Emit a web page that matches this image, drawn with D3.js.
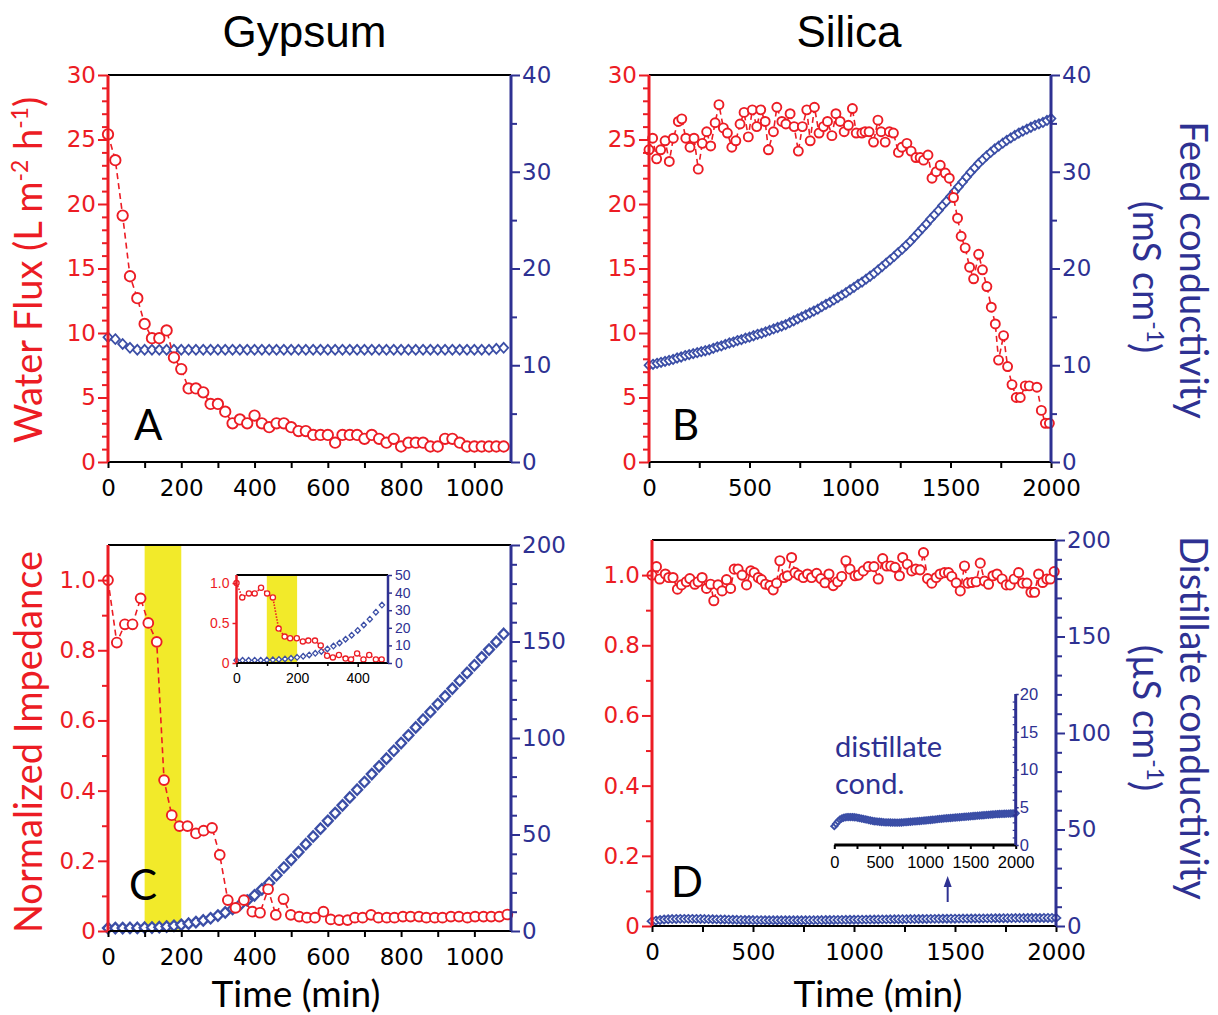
<!DOCTYPE html>
<html>
<head>
<meta charset="utf-8">
<script src="https://cdn.jsdelivr.net/npm/d3@7"></script>
<style>
  html, body { margin: 0; padding: 0; background: #fff; }
  svg { display: block; }
</style>
</head>
<body>
<svg id="fig" width="1218" height="1015"></svg>
<script>
// ---------------- data ----------------
// Gypsum: water flux (L m-2 h-1) and feed conductivity (mS/cm), sampled every 20 min
const gypsumTime = [0,20,40,60,80,100,120,140,160,180,200,220,240,260,280,300,320,340,360,380,400,420,440,460,480,500,520,540,560,580,600,620,640,660,680,700,720,740,760,780,800,820,840,860,880,900,920,940,960,980,1000,1020,1040,1060,1080];
const gypsumFlux = [25.4,23.4,19.1,14.4,12.7,10.7,9.6,9.6,10.2,8.1,7.2,5.7,5.7,5.4,4.5,4.5,3.9,3.0,3.3,3.0,3.6,3.0,2.7,3.0,3.0,2.7,2.4,2.4,2.1,2.1,2.1,1.5,2.1,2.1,2.1,1.8,2.1,1.8,1.5,1.8,1.2,1.5,1.5,1.5,1.2,1.2,1.8,1.8,1.5,1.2,1.2,1.2,1.2,1.2,1.2];
const gypsumFeedCond = [12.9,12.7,12.2,11.8,11.6,
  11.6,11.6,11.6,11.6,11.6,11.6,11.6,11.6,11.6,11.6,
  11.6,11.6,11.6,11.6,11.6,11.6,11.6,11.6,11.6,11.6,
  11.6,11.6,11.6,11.6,11.6,11.6,11.6,11.6,11.6,11.6,
  11.6,11.6,11.6,11.6,11.6,11.6,11.6,11.6,11.6,11.6,
  11.6,11.6,11.6,11.6,11.6,11.6,11.6,11.6,11.7,11.8];

// Silica: water flux and feed conductivity
const silicaFluxTime = [0,18,38,58,80,101,121,146,163,183,204,224,245,265,287,307,329,348,370,390,412,432,453,473,494,514,536,556,578,594,619,636,661,681,702,722,743,763,785,802,823,846,868,888,910,930,951,971,992,1012,1031,1059,1075,1095,1117,1139,1155,1175,1196,1216,1241,1258,1283,1304,1328,1349,1366,1388,1408,1429,1449,1474,1494,1515,1535,1553,1573,1595,1615,1640,1659,1681,1703,1723,1739,1764,1784,1806,1827,1847,1872,1892,1930,1952,1972,1992];
const silicaFlux = [24.2,25.1,23.5,24.2,24.9,23.3,25.1,26.4,26.6,25.1,24.4,25.1,22.7,24.7,25.6,24.5,26.3,27.7,25.9,25.5,24.4,24.9,26.2,27.1,25.2,27.3,26.0,27.3,26.4,24.2,25.6,27.5,26.4,26.2,27.0,26.0,24.1,26.0,27.3,24.9,27.5,25.5,26.0,26.4,25.3,27.0,26.4,25.6,26.1,27.4,25.5,25.5,25.6,25.6,24.8,26.5,25.6,24.8,25.6,25.5,24.0,24.4,24.7,24.1,23.6,23.6,23.4,23.8,22.0,22.5,23.0,22.4,22.0,20.5,18.9,17.5,16.6,15.1,14.2,16.1,14.9,13.6,12.0,10.7,7.9,9.8,7.4,6.0,5.0,5.0,5.9,5.9,5.8,4.0,3.0,3.0];
const silicaTime = [0,20,40,60,80,100,120,140,160,180,200,220,240,260,280,300,320,340,360,380,400,420,440,460,480,500,520,540,560,580,600,620,640,660,680,700,720,740,760,780,800,820,840,860,880,900,920,940,960,980,1000,1020,1040,1060,1080,1100,1120,1140,1160,1180,1200,1220,1240,1260,1280,1300,1320,1340,1360,1380,1400,1420,1440,1460,1480,1500,1520,1540,1560,1580,1600,1620,1640,1660,1680,1700,1720,1740,1760,1780,1800,1820,1840,1860,1880,1900,1920,1940,1960,1980,2000];
const silicaFeedCond = [10.0,10.1,10.2,10.3,10.4,10.5,10.6,10.75,10.85,11.0,11.1,11.2,11.3,11.4,11.5,11.6,11.75,11.9,12.0,12.15,12.3,12.4,12.55,12.65,12.8,12.9,13.05,13.2,13.3,13.45,13.6,13.75,13.9,14.05,14.2,14.4,14.6,14.8,15.0,15.2,15.4,15.6,15.8,16.05,16.3,16.5,16.75,17.0,17.25,17.5,17.8,18.05,18.35,18.6,18.9,19.2,19.5,19.85,20.2,20.55,20.9,21.25,21.65,22.0,22.4,22.8,23.25,23.7,24.15,24.6,25.1,25.55,26.0,26.5,26.95,27.45,27.95,28.45,28.95,29.45,29.95,30.4,30.85,31.25,31.65,32.0,32.35,32.65,32.95,33.25,33.5,33.75,34.0,34.2,34.4,34.6,34.8,34.95,35.1,35.3,35.5];

// Gypsum: normalized impedance and distillate conductivity (uS/cm)
const gypsumImpTime = [0,24,46,67,89,110,133,153,174,195,217,240,261,284,305,327,348,371,394,415,437,458,479,499,522,543,565,588,608,631,654,674,695,718,738,761,782,805,826,849,869,892,913,936,958,981,1002,1025,1046,1068,1090];
const gypsumImp = [1.0,0.822,0.874,0.874,0.948,0.878,0.824,0.430,0.330,0.299,0.299,0.278,0.286,0.294,0.217,0.088,0.066,0.088,0.055,0.052,0.119,0.046,0.091,0.046,0.041,0.038,0.038,0.055,0.033,0.031,0.031,0.038,0.038,0.046,0.038,0.038,0.038,0.041,0.041,0.041,0.038,0.038,0.038,0.041,0.041,0.038,0.041,0.041,0.041,0.041,0.047];
const gypsumDistCond = [1.5,1.5,1.5,1.6,1.6,1.7,1.8,2.0,2.3,2.7,3.2,3.8,4.6,5.5,6.6,8.0,9.6,11.4,13.5,15.8,18.5,21.6,24.9,28.9,32.9,36.9,40.9,45.0,49.0,53.0,57.1,61.1,65.1,69.2,73.2,77.2,81.3,85.3,89.3,93.4,97.4,101.4,105.5,109.5,113.5,117.6,121.6,125.6,129.7,133.7,137.7,141.8,145.8,149.8,153.9];
// first 500 min, impedance as shown in the inset
const insetImpTime = [0,19,41,60,81,101,120,139,159,177,199,219,237,259,278,299,318,338,360,378,398,419,438,460,479];
const insetImp = [1.0,0.82,0.87,0.87,0.94,0.87,0.82,0.43,0.33,0.31,0.31,0.27,0.28,0.28,0.22,0.09,0.07,0.10,0.055,0.045,0.12,0.045,0.10,0.045,0.045];
const scalingWindow = [100, 200];   // shaded interval, min

// Silica: normalized impedance and distillate conductivity (uS/cm)
const silicaImpTime = [0,22,38,66,83,104,126,146,170,187,212,228,248,270,290,306,327,347,369,389,407,426,446,468,489,506,526,542,562,584,600,617,633,654,671,691,708,727,749,770,790,815,836,856,876,897,919,939,960,980,1005,1022,1046,1071,1099,1120,1142,1162,1182,1203,1225,1241,1264,1286,1306,1327,1344,1364,1385,1407,1426,1448,1468,1484,1506,1526,1547,1564,1584,1605,1625,1646,1666,1688,1708,1733,1754,1773,1793,1815,1835,1856,1876,1894,1914,1934,1955,1972,1991];
const silicaImp = [1.0,1.024,0.989,1.003,0.993,0.993,0.960,0.972,0.981,0.990,0.974,0.981,0.993,0.962,0.974,0.927,0.972,0.955,0.987,0.962,1.017,1.017,1.0,0.972,1.012,1.007,0.993,0.987,0.974,0.970,0.958,0.977,1.041,0.993,0.998,1.050,1.007,1.0,0.993,1.003,0.993,1.005,0.990,0.978,1.003,0.970,0.981,0.996,1.041,1.017,0.998,1.0,1.012,1.024,1.024,0.989,1.047,1.026,1.026,1.022,0.998,1.050,1.031,1.012,1.017,1.015,1.064,0.990,0.977,0.993,1.003,1.007,1.007,0.996,0.978,0.955,1.026,0.977,0.979,0.981,1.034,0.983,0.974,0.998,1.003,0.989,0.972,0.972,0.989,1.007,0.977,0.977,0.951,0.951,1.003,0.979,0.989,0.989,1.010];
const silicaDistCond = [2.5,2.8,3.1,3.35,3.5,3.6,3.65,3.7,3.7,3.7,3.7,3.68,3.65,3.6,3.55,3.5,3.45,3.4,3.35,3.3,3.25,3.2,3.15,3.12,3.1,3.08,3.05,3.03,3.0,3.0,3.0,2.98,2.97,2.97,2.96,2.96,2.97,2.98,3.0,3.02,3.04,3.06,3.08,3.1,3.12,3.14,3.16,3.18,3.2,3.22,3.25,3.27,3.29,3.31,3.34,3.36,3.39,3.42,3.45,3.47,3.5,3.52,3.54,3.56,3.58,3.6,3.62,3.64,3.66,3.68,3.7,3.72,3.74,3.76,3.78,3.8,3.82,3.84,3.86,3.88,3.9,3.92,3.94,3.96,3.98,4.0,4.02,4.04,4.06,4.08,4.1,4.11,4.12,4.13,4.14,4.15,4.16,4.17,4.18,4.19,4.2];
const markedTime = 1250;            // arrow position on the inset time axis

// tick values
const fluxTicks = [0,5,10,15,20,25,30];
const fluxMinor = [1,2,3,4,6,7,8,9,11,12,13,14,16,17,18,19,21,22,23,24,26,27,28,29];
const feedTicks = [0,10,20,30,40];
const feedMinor = [5,15,25,35];
const impTicks = [0,0.2,0.4,0.6,0.8,1.0];
const impMinor = [0.1,0.3,0.5,0.7,0.9];
const distTicks = [0,50,100,150,200];
const distMinor = [10,20,30,40,60,70,80,90,110,120,130,140,160,170,180,190];
const gypTimeTicks = [0,200,400,600,800,1000];
const gypTimeMinor = [100,300,500,700,900];
const silTimeTicks = [0,500,1000,1500,2000];
const silTimeMinor = [250,750,1250,1750];
const insetImpTicks = [0,0.5,1.0];
const insetDistTicks = [0,10,20,30,40,50];
const insetTimeTicks = [0,200,400];
const insetTimeMinor = [100,300];
const insetDTicks = [0,5,10,15,20];
const insetDMinor = [1,2,3,4,6,7,8,9,11,12,13,14,16,17,18,19];
const insetDTimeTicks = [0,500,1000,1500,2000];
const insetDTimeMinor = [250,750,1250,1750];

// ---------------- styles ----------------
const RED = "#ec1c24", NAVY = "#2e3192", DIAM = "#3b4ea6", YELLOW = "#f2ea2a";
const NUM_FONT = "DejaVu Sans", SMALL_FONT = "Liberation Sans", LABEL_FONT = "Lato", TITLE_FONT = "Liberation Sans";

const svg = d3.select("#fig");

function diamond(w, h) { return `M0,${-h}L${w},0L0,${h}L${-w},0Z`; }
const fmtImp = d => d === 0 ? "0" : d.toFixed(1);
const fmtInt = d3.format("d");

function styledAxis(parent, gen, transform, o) {
  const g = parent.append("g").attr("transform", transform).call(gen);
  g.select(".domain").remove();
  g.selectAll(".tick line").attr("stroke", o.color).attr("stroke-width", o.tw || 2);
  g.selectAll(".tick text").attr("fill", o.textColor || o.color)
    .attr("font-family", o.font || NUM_FONT).attr("font-size", o.size || 23);
  return g;
}

function makePanel(box, xDomain, yLDomain, yRDomain) {
  return {
    box,
    x: d3.scaleLinear().domain(xDomain).range([box.left, box.right]),
    yl: d3.scaleLinear().domain(yLDomain).range([box.bottom, box.top]),
    yr: d3.scaleLinear().domain(yRDomain).range([box.bottom, box.top])
  };
}

function drawDiamonds(g, p, xs, ys, w, h, sw) {
  g.append("g").selectAll("path").data(xs).join("path")
    .attr("d", diamond(w, h))
    .attr("transform", (d, i) => `translate(${p.x(d)},${p.yr(ys[i])})`)
    .attr("fill", "#fff").attr("stroke", DIAM).attr("stroke-width", sw);
}

function drawCircles(g, p, xs, ys, r, sw, dash) {
  const pts = xs.map((d, i) => [d, ys[i]]);
  g.append("path").datum(pts)
    .attr("d", d3.line().x(d => p.x(d[0])).y(d => p.yl(d[1])))
    .attr("fill", "none").attr("stroke", RED).attr("stroke-width", 1.6)
    .attr("stroke-dasharray", dash);
  g.append("g").selectAll("circle").data(pts).join("circle")
    .attr("cx", d => p.x(d[0])).attr("cy", d => p.yl(d[1])).attr("r", r)
    .attr("fill", "#fff").attr("stroke", RED).attr("stroke-width", sw);
}

function drawFrame(g, p, cfg) {
  const b = p.box;
  // bottom time axis
  styledAxis(g, d3.axisBottom(p.x).tickValues(cfg.xMinor).tickSize(6).tickFormat(""),
    `translate(0,${b.bottom})`, { color: "#000" });
  styledAxis(g, d3.axisBottom(p.x).tickValues(cfg.xTicks).tickSize(6).tickPadding(12).tickFormat(fmtInt),
    `translate(0,${b.bottom})`, { color: "#000" });
  // left axis
  styledAxis(g, d3.axisLeft(p.yl).tickValues(cfg.ylMinor).tickSize(6).tickFormat(""),
    `translate(${b.left},0)`, { color: RED });
  styledAxis(g, d3.axisLeft(p.yl).tickValues(cfg.ylTicks).tickSize(10).tickPadding(2).tickFormat(cfg.ylFmt || fmtInt),
    `translate(${b.left},0)`, { color: RED });
  // right axis
  styledAxis(g, d3.axisRight(p.yr).tickValues(cfg.yrMinor).tickSize(6).tickFormat(""),
    `translate(${b.right},0)`, { color: NAVY });
  styledAxis(g, d3.axisRight(p.yr).tickValues(cfg.yrTicks).tickSize(9).tickPadding(2).tickFormat(fmtInt),
    `translate(${b.right},0)`, { color: NAVY });
  // frame lines
  g.append("line").attr("x1", b.left).attr("x2", b.right).attr("y1", b.top).attr("y2", b.top)
    .attr("stroke", "#000").attr("stroke-width", 2);
  g.append("line").attr("x1", b.left).attr("x2", b.right).attr("y1", b.bottom).attr("y2", b.bottom)
    .attr("stroke", "#000").attr("stroke-width", 2);
  g.append("line").attr("x1", b.left).attr("x2", b.left).attr("y1", b.top).attr("y2", b.bottom)
    .attr("stroke", RED).attr("stroke-width", 3);
  g.append("line").attr("x1", b.right).attr("x2", b.right).attr("y1", b.top).attr("y2", b.bottom)
    .attr("stroke", NAVY).attr("stroke-width", 3);
  // panel letter
  g.append("text").attr("x", cfg.letterX).attr("y", cfg.letterY).text(cfg.letter)
    .attr("font-family", LABEL_FONT).attr("font-size", 42).attr("fill", "#000");
}

// ---------------- panel A: gypsum flux ----------------
const pA = makePanel({ left: 108, right: 511, top: 75, bottom: 462 }, [0, 1100], [0, 30], [0, 40]);
const gA = svg.append("g");
drawDiamonds(gA, pA, gypsumTime, gypsumFeedCond, 4.5, 4.9, 1.8);
drawCircles(gA, pA, gypsumTime, gypsumFlux, 5.2, 1.9, "6,4");
drawFrame(gA, pA, { xTicks: gypTimeTicks, xMinor: gypTimeMinor, ylTicks: fluxTicks, ylMinor: fluxMinor,
  yrTicks: feedTicks, yrMinor: feedMinor, letter: "A", letterX: 134, letterY: 440 });

// ---------------- panel B: silica flux ----------------
const pB = makePanel({ left: 649, right: 1051, top: 75, bottom: 462 }, [0, 2000], [0, 30], [0, 40]);
const gB = svg.append("g");
drawDiamonds(gB, pB, silicaTime, silicaFeedCond, 4.4, 4.6, 1.8);
drawCircles(gB, pB, silicaFluxTime, silicaFlux, 4.5, 1.9, "6,4");
drawFrame(gB, pB, { xTicks: silTimeTicks, xMinor: silTimeMinor, ylTicks: fluxTicks, ylMinor: fluxMinor,
  yrTicks: feedTicks, yrMinor: feedMinor, letter: "B", letterX: 672, letterY: 440 });

// ---------------- panel C: gypsum impedance ----------------
const pC = makePanel({ left: 108, right: 511, top: 545, bottom: 931 }, [0, 1100], [0, 1.1], [0, 200]);
const gC = svg.append("g");
gC.append("rect").attr("x", pC.x(scalingWindow[0])).attr("y", pC.box.top)
  .attr("width", pC.x(scalingWindow[1]) - pC.x(scalingWindow[0])).attr("height", pC.box.bottom - pC.box.top)
  .attr("fill", YELLOW);
drawDiamonds(gC, pC, gypsumTime, gypsumDistCond, 5.0, 5.2, 2.3);
drawCircles(gC, pC, gypsumImpTime, gypsumImp, 4.9, 1.9, "6,4");
drawFrame(gC, pC, { xTicks: gypTimeTicks, xMinor: gypTimeMinor, ylTicks: impTicks, ylMinor: impMinor, ylFmt: fmtImp,
  yrTicks: distTicks, yrMinor: distMinor, letter: "C", letterX: 129, letterY: 900 });

// inset of panel C: first 500 min
const iC = makePanel({ left: 236.5, right: 388, top: 575, bottom: 663 }, [0, 500], [0, 1.1], [0, 50]);
const giC = svg.append("g");
giC.append("rect").attr("x", iC.box.left).attr("y", iC.box.top)
  .attr("width", iC.box.right - iC.box.left).attr("height", iC.box.bottom - iC.box.top).attr("fill", "#fff");
giC.append("rect").attr("x", iC.x(scalingWindow[0])).attr("y", iC.box.top)
  .attr("width", iC.x(scalingWindow[1]) - iC.x(scalingWindow[0])).attr("height", iC.box.bottom - iC.box.top)
  .attr("fill", YELLOW);
{
  const n = gypsumTime.filter(t => t <= 480).length;
  drawDiamonds(giC, iC, gypsumTime.slice(0, n), gypsumDistCond.slice(0, n), 2.6, 2.8, 1.3);
}
drawCircles(giC, iC, insetImpTime, insetImp, 2.6, 1.3, "1.5,1.5");
{
  const b = iC.box;
  styledAxis(giC, d3.axisBottom(iC.x).tickValues(insetTimeMinor).tickSize(3).tickFormat(""),
    `translate(0,${b.bottom})`, { color: "#000", tw: 1.5 });
  styledAxis(giC, d3.axisBottom(iC.x).tickValues(insetTimeTicks).tickSize(4).tickPadding(6).tickFormat(fmtInt),
    `translate(0,${b.bottom})`, { color: "#000", tw: 1.5, font: SMALL_FONT, size: 14 });
  styledAxis(giC, d3.axisLeft(iC.yl).tickValues(insetImpTicks).tickSize(4).tickPadding(3).tickFormat(fmtImp),
    `translate(${b.left},0)`, { color: RED, tw: 1.5, font: SMALL_FONT, size: 14 });
  styledAxis(giC, d3.axisRight(iC.yr).tickValues(insetDistTicks).tickSize(4).tickPadding(3).tickFormat(fmtInt),
    `translate(${b.right},0)`, { color: NAVY, tw: 1.5, font: SMALL_FONT, size: 14 });
  giC.append("line").attr("x1", b.left).attr("x2", b.right).attr("y1", b.top).attr("y2", b.top).attr("stroke", "#000").attr("stroke-width", 2);
  giC.append("line").attr("x1", b.left).attr("x2", b.right).attr("y1", b.bottom).attr("y2", b.bottom).attr("stroke", "#000").attr("stroke-width", 2);
  giC.append("line").attr("x1", b.left).attr("x2", b.left).attr("y1", b.top).attr("y2", b.bottom).attr("stroke", RED).attr("stroke-width", 2.5);
  giC.append("line").attr("x1", b.right).attr("x2", b.right).attr("y1", b.top).attr("y2", b.bottom).attr("stroke", NAVY).attr("stroke-width", 2.5);
}

// ---------------- panel D: silica impedance ----------------
const pD = makePanel({ left: 652, right: 1056, top: 540, bottom: 926 }, [0, 2000], [0, 1.1], [0, 200]);
const gD = svg.append("g");
drawDiamonds(gD, pD, silicaTime, silicaDistCond, 4.4, 4.0, 1.8);
drawCircles(gD, pD, silicaImpTime, silicaImp, 4.6, 1.9, "6,4");
drawFrame(gD, pD, { xTicks: silTimeTicks, xMinor: silTimeMinor, ylTicks: impTicks, ylMinor: impMinor, ylFmt: fmtImp,
  yrTicks: distTicks, yrMinor: distMinor, letter: "D", letterX: 671, letterY: 897 });

// inset of panel D: distillate conductivity on a 0-20 scale
const iD = makePanel({ left: 834.3, right: 1015.7, top: 694, bottom: 845 }, [0, 2000], [0, 20], [0, 20]);
const giD = svg.append("g");
drawDiamonds(giD, iD, silicaTime, silicaDistCond, 3.0, 3.0, 2);
{
  const b = iD.box;
  styledAxis(giD, d3.axisBottom(iD.x).tickValues(insetDTimeMinor).tickSize(4).tickFormat(""),
    `translate(0,${b.bottom})`, { color: "#000", tw: 2 });
  styledAxis(giD, d3.axisBottom(iD.x).tickValues(insetDTimeTicks).tickSize(4).tickPadding(7).tickFormat(fmtInt),
    `translate(0,${b.bottom})`, { color: "#000", tw: 2, font: SMALL_FONT, size: 16.5 });
  styledAxis(giD, d3.axisLeft(iD.yr).tickValues(insetDMinor).tickSize(3).tickFormat(""),
    `translate(${b.right},0)`, { color: NAVY, tw: 1.2 });
  styledAxis(giD, d3.axisRight(iD.yr).tickValues(insetDTicks).tickSize(3).tickPadding(1).tickFormat(fmtInt),
    `translate(${b.right},0)`, { color: NAVY, tw: 1.5, font: SMALL_FONT, size: 16.5 });
  giD.append("line").attr("x1", b.left).attr("x2", b.right).attr("y1", b.bottom).attr("y2", b.bottom).attr("stroke", "#000").attr("stroke-width", 3);
  giD.append("line").attr("x1", b.right).attr("x2", b.right).attr("y1", b.top).attr("y2", b.bottom).attr("stroke", NAVY).attr("stroke-width", 3);
  // arrow marking a time on the inset axis
  const ax = iD.x(markedTime);
  giD.append("line").attr("x1", ax).attr("x2", ax).attr("y1", b.bottom + 57).attr("y2", b.bottom + 40)
    .attr("stroke", NAVY).attr("stroke-width", 2);
  giD.append("path").attr("d", `M${ax},${b.bottom + 31}L${ax + 4},${b.bottom + 42}L${ax - 4},${b.bottom + 42}Z`).attr("fill", NAVY);
  giD.append("text").attr("x", 835).attr("y", 757).text("distillate")
    .attr("font-family", LABEL_FONT).attr("font-size", 29).attr("fill", NAVY);
  giD.append("text").attr("x", 835).attr("y", 794).text("cond.")
    .attr("font-family", LABEL_FONT).attr("font-size", 29).attr("fill", NAVY);
}

// ---------------- titles ----------------
const titles = svg.append("g").attr("font-family", LABEL_FONT);
svg.append("text").attr("x", 304.5).attr("y", 47).attr("text-anchor", "middle").text("Gypsum")
  .attr("font-family", TITLE_FONT).attr("font-size", 44);
svg.append("text").attr("x", 849).attr("y", 47).attr("text-anchor", "middle").text("Silica")
  .attr("font-family", TITLE_FONT).attr("font-size", 44);

function rotatedTitle(x, y, angle, color, parts, size) {
  const t = titles.append("text").attr("transform", `translate(${x},${y}) rotate(${angle})`)
    .attr("text-anchor", "middle").attr("fill", color).attr("font-size", size);
  parts.forEach(p => {
    const s = t.append("tspan").text(p.text);
    if (p.sup) s.attr("font-size", size * 0.6).attr("dy", -size * 0.36);
    if (p.down) s.attr("dy", size * 0.36);
  });
  return t;
}

rotatedTitle(42, 270, -90, RED, [
  { text: "Water Flux (L m" }, { text: "-2", sup: true }, { text: " h", down: true },
  { text: "-1", sup: true }, { text: ")", down: true }], 38);
rotatedTitle(42, 742, -90, RED, [{ text: "Normalized Impedance" }], 38);
rotatedTitle(1180, 270, 90, NAVY, [{ text: "Feed conductivity" }], 38);
rotatedTitle(1133, 277, 90, NAVY, [{ text: "(mS cm" }, { text: "-1", sup: true }, { text: ")", down: true }], 38);
rotatedTitle(1180, 718, 90, NAVY, [{ text: "Distillate conductivity" }], 38);
rotatedTitle(1133, 718, 90, NAVY, [{ text: "(\u00b5S cm" }, { text: "-1", sup: true }, { text: ")", down: true }], 38);

titles.append("text").attr("x", 296).attr("y", 1007).attr("text-anchor", "middle").attr("font-size", 37).text("Time (min)");
titles.append("text").attr("x", 878).attr("y", 1007).attr("text-anchor", "middle").attr("font-size", 37).text("Time (min)");
</script>
</body>
</html>
